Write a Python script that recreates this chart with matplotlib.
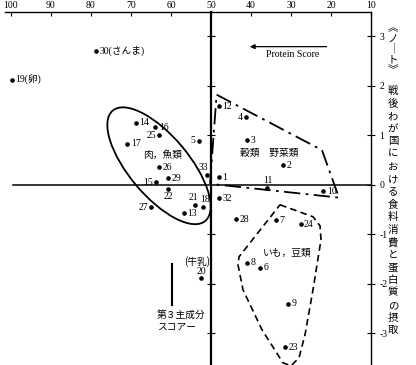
import matplotlib
matplotlib.use("Agg")
import matplotlib.pyplot as plt
from matplotlib.patches import Ellipse, Polygon
from matplotlib.transforms import ScaledTranslation

# ---------------- data ----------------
point_ids = [1, 2, 3, 4, 5, 6, 7, 8, 9, 10, 11, 12, 13, 14, 15, 16, 17,
             18, 19, 20, 21, 22, 23, 24, 25, 26, 27, 28, 29, 30, 32, 33]
protein_score = [48.0, 32.0, 41.1, 41.25, 53.1, 37.7, 33.8, 40.9, 30.7, 21.9,
                 35.9, 48.0, 56.8, 68.8, 63.75, 63.9, 70.9, 51.9, 99.7, 52.5,
                 53.9, 60.75, 31.5, 27.6, 62.9, 62.9, 64.9, 43.8, 60.75, 78.8,
                 47.9, 51.0]
third_pc = [0.15, 0.39, 0.90, 1.36, 0.89, -1.68, -0.72, -1.57, -2.40, -0.13,
            -0.07, 1.59, -0.57, 1.25, 0.05, 1.16, 0.83, -0.45, 2.12, -1.89,
            -0.40, -0.08, -3.28, -0.80, 1.00, 0.35, -0.45, -0.70, 0.13, 2.70,
            -0.27, 0.20]
point_names = {19: "19(卵)", 30: "30(さんま)"}

x_ticks = [100, 90, 80, 70, 60, 50, 40, 30, 20, 10]
y_ticks = [-3, -2, -1, 0, 1, 2, 3]

group_labels = ["肉，魚類", "穀類　野菜類", "いも，豆類"]
side_title = "戦後わが国における食料消費と蛋白質の摂取"
side_note = "︽ノ｜ト︾"

# grain / vegetable region (dash-dot outline)
grain_x = [50.25, 48.6, 22.25, 18.0]
grain_y = [0.02, 1.82, 0.70, -0.26]
# potato / bean region (dashed outline)
potato_x = [32.75, 24.5, 22.75, 22.5, 24.5, 26.5, 28.0, 30.0, 32.0, 37.25,
            42.0, 43.25, 43.0]
potato_y = [-0.404, -0.646, -0.828, -1.111, -2.121, -3.030, -3.495, -3.657,
            -3.596, -2.929, -2.121, -1.616, -1.455]

# ---------------- figure ----------------
FONT = ["Liberation Serif", "Noto Sans CJK JP", "DejaVu Sans"]
JP = ["Noto Sans CJK JP", "DejaVu Sans"]

fig = plt.figure(figsize=(4.16, 3.65), dpi=100)
ax = fig.add_axes([5 / 416, 0, 366 / 416, 353 / 365])
ax.set_xlim(101.5, 10)
ax.set_ylim(-3.64, 3.49)

# spines
for s in ["top", "right"]:
    ax.spines[s].set_linewidth(1.0)
ax.spines["left"].set_position(("data", 50))
ax.spines["left"].set_linewidth(1.6)
ax.spines["bottom"].set_position(("data", 0))
ax.spines["bottom"].set_bounds(10, 99.5)
ax.spines["bottom"].set_linewidth(1.1)

ax.set_xticks(x_ticks)
ax.set_xticklabels([str(v) for v in x_ticks])
ax.set_yticks(y_ticks)
ax.set_yticklabels([str(v) for v in y_ticks])
ax.tick_params(axis="x", bottom=False, top=True, labelbottom=False,
               labeltop=True, direction="in", length=3, pad=1.5, labelsize=7)
ax.tick_params(axis="y", left=True, right=True, labelleft=False,
               labelright=True, direction="inout", length=6, pad=3,
               labelsize=7)
for lab in ax.get_xticklabels() + ax.get_yticklabels():
    lab.set_family(FONT)
ax.yaxis.get_major_ticks()[3].tick1line.set_visible(False)

# points
ax.plot(protein_score, third_pc, "o", color="k", ms=2.3, zorder=5)

right = dict(ha="left", va="center", off=(2.5, 0))
left = dict(ha="right", va="center", off=(-2.5, 0))
above = dict(ha="center", va="bottom", off=(0, 2))
below = dict(ha="center", va="top", off=(0, -2))
placement = {4: left, 5: left, 15: left, 25: left, 27: left,
             11: above, 18: dict(ha="center", va="bottom", off=(1, 2)),
             21: dict(ha="right", va="bottom", off=(2, 2)),
             20: above, 22: below,
             33: dict(ha="right", va="bottom", off=(1, 2))}
for pid, x, y in zip(point_ids, protein_score, third_pc):
    p = placement.get(pid, right)
    ax.annotate(point_names.get(pid, str(pid)), (x, y), xytext=p["off"],
                textcoords="offset points", ha=p["ha"], va=p["va"],
                fontsize=7, family=FONT)
    if pid == 20:
        ax.annotate("(牛乳)", (x, y), xytext=(-3, 8),
                    textcoords="offset points", ha="center", va="bottom",
                    fontsize=7, family=JP)

# meat / fish ellipse (drawn in screen units around a data centre)
trans = fig.dpi_scale_trans + ScaledTranslation(63.0, 0.384, ax.transData)
ax.add_patch(Ellipse((0, 0), 1.44, 0.60, angle=-50, transform=trans,
                     fill=False, lw=1.3, color="k"))

ax.add_patch(Polygon(list(zip(grain_x, grain_y)), closed=True, fill=False,
                     lw=1.3, color="k", ls=(0, (9, 3, 1.5, 3))))
ax.add_patch(Polygon(list(zip(potato_x, potato_y)), closed=True, fill=False,
                     lw=1.2, color="k", ls=(0, (4, 2.5))))

ax.text(62.0, 0.60, group_labels[0], fontsize=7, family=JP,
        ha="center", va="center")
ax.text(35.5, 0.64, group_labels[1], fontsize=7, family=JP,
        ha="center", va="center")
ax.text(31.0, -1.37, group_labels[2], fontsize=7, family=JP,
        ha="center", va="center")

# Protein Score arrow
ax.annotate("", xy=(40.3, 2.79), xytext=(21.1, 2.79),
            arrowprops=dict(arrowstyle="-|>", lw=0.9, color="k",
                            mutation_scale=7, shrinkA=0, shrinkB=0))
ax.text(29.5, 2.64, "Protein Score", fontsize=7, family=FONT,
        ha="center", va="center")

# 3rd component scale line
ax.plot([59.75, 59.75], [-1.6, -2.42], color="k", lw=1.5)
ax.text(63.5, -2.63, "第３主成分", fontsize=7, family=JP,
        ha="left", va="center")
ax.text(63.5, -2.86, "スコアー", fontsize=7, family=JP,
        ha="left", va="center")

# side vertical title
xs = 393 / 416
for i, ch in enumerate(side_note):
    fig.text(xs, 1 - (28 + i * 10.5) / 365, ch, fontsize=7.5, family=JP,
             ha="center", va="center")
for i, ch in enumerate(side_title):
    fig.text(xs, 1 - (91 + i * 12.6) / 365, ch, fontsize=7.5, family=JP,
             ha="center", va="center")

fig.savefig("out.png", dpi=100)
